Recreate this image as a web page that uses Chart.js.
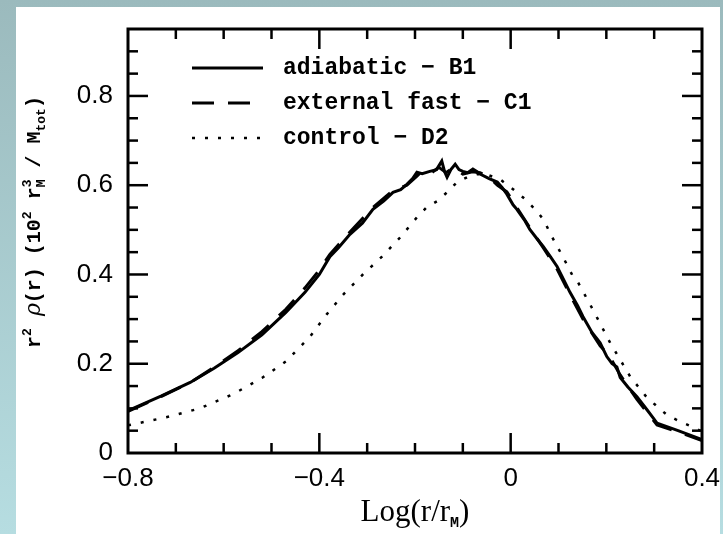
<!DOCTYPE html>
<html>
<head>
<meta charset="utf-8">
<script src="https://cdn.jsdelivr.net/npm/chart.js@4.4.0/dist/chart.umd.min.js"></script>
<style>
html, body { margin: 0; padding: 0; }
body { width: 723px; height: 534px; overflow: hidden; position: relative; background: linear-gradient(#9bbabd, #b6dde1); }
#panel { position: absolute; left: 16px; top: 7px; width: 704px; height: 527px; background: #fff; }
#graph { position: absolute; left: 0; top: 0; }
</style>
</head>
<body>
<div id="panel"></div>
<canvas id="graph" width="723" height="534"></canvas>
<script>
'use strict'

// series
let xAdiabatic = [-0.80, -0.73, -0.67, -0.62, -0.57, -0.52, -0.47, -0.43, -0.40, -0.378, -0.36, -0.336, -0.31, -0.288, -0.265, -0.246, -0.23, -0.217, -0.205, -0.196, -0.185, -0.169, -0.155, -0.144, -0.138, -0.133, -0.125, -0.116, -0.108, -0.10, -0.09, -0.079, -0.07, -0.064, -0.045, -0.028, -0.018, -0.008, 0.005, 0.013, 0.02, 0.03, 0.04, 0.055, 0.068, 0.083, 0.097, 0.11, 0.124, 0.14, 0.151, 0.17, 0.187, 0.201, 0.212, 0.222, 0.229, 0.245, 0.264, 0.285, 0.306, 0.35, 0.40];
let yAdiabatic = [0.095, 0.128, 0.158, 0.19, 0.225, 0.265, 0.315, 0.36, 0.40, 0.44, 0.46, 0.49, 0.515, 0.546, 0.565, 0.584, 0.59, 0.602, 0.615, 0.629, 0.626, 0.631, 0.635, 0.654, 0.63, 0.618, 0.635, 0.647, 0.635, 0.631, 0.628, 0.636, 0.63, 0.625, 0.615, 0.607, 0.595, 0.58, 0.556, 0.546, 0.535, 0.52, 0.501, 0.48, 0.463, 0.44, 0.418, 0.39, 0.36, 0.33, 0.306, 0.27, 0.247, 0.216, 0.20, 0.193, 0.169, 0.148, 0.126, 0.097, 0.067, 0.05, 0.03];

let xFast = [-0.80, -0.73, -0.67, -0.62, -0.57, -0.52, -0.47, -0.43, -0.40, -0.378, -0.336, -0.288, -0.246, -0.217, -0.196, -0.185, -0.165, -0.15, -0.135, -0.12, -0.10, -0.08, -0.064, -0.045, -0.028, -0.008, 0.013, 0.04, 0.068, 0.097, 0.124, 0.151, 0.187, 0.205, 0.229, 0.264, 0.306, 0.35, 0.40];
let yFast = [0.093, 0.127, 0.158, 0.192, 0.229, 0.272, 0.322, 0.37, 0.41, 0.445, 0.495, 0.55, 0.588, 0.60, 0.62, 0.632, 0.628, 0.64, 0.628, 0.64, 0.625, 0.63, 0.628, 0.618, 0.60, 0.585, 0.55, 0.505, 0.46, 0.412, 0.355, 0.30, 0.24, 0.22, 0.175, 0.12, 0.063, 0.047, 0.028];

let xControl = [-0.80, -0.72, -0.65, -0.58, -0.52, -0.47, -0.42, -0.385, -0.35, -0.309, -0.269, -0.231, -0.196, -0.175, -0.154, -0.133, -0.112, -0.091, -0.07, -0.045, -0.022, 0.005, 0.03, 0.051, 0.068, 0.089, 0.109, 0.13, 0.141, 0.172, 0.208, 0.25, 0.285, 0.327, 0.355, 0.381, 0.40];
let yControl = [0.062, 0.08, 0.10, 0.132, 0.168, 0.205, 0.26, 0.31, 0.355, 0.40, 0.44, 0.483, 0.528, 0.551, 0.564, 0.584, 0.607, 0.618, 0.625, 0.622, 0.613, 0.591, 0.569, 0.546, 0.524, 0.479, 0.44, 0.396, 0.382, 0.321, 0.247, 0.171, 0.124, 0.085, 0.07, 0.058, 0.048];

let seriesNames = ['adiabatic \u2212 B1', 'external fast \u2212 C1', 'control \u2212 D2'];
let xRange = [-0.8, 0.4];
let yRange = [0, 0.95];
let xLabelled = [-0.8, -0.4, 0, 0.4];
let yLabelled = [0, 0.2, 0.4, 0.6, 0.8];

function pairs (xs, ys) {
    return xs.map((x, i) => ({x: x, y: ys[i]}));
}

function isLabelled (v, list) {
    return list.some(t => Math.abs(t - v) < 1e-6);
}

function fmt (v) {
    if (Math.abs(v) < 1e-9) return '0';
    return v.toFixed(1).replace('-', '\u2212');
}

function line (ctx, x1, y1, x2, y2) {
    ctx.beginPath();
    ctx.moveTo(x1, y1);
    ctx.lineTo(x2, y2);
    ctx.stroke();
}

// text with super/subscripts, centred on x
function drawRich (ctx, parts, x, y) {
    let w = 0, last = 0;
    parts.forEach(p => {
        ctx.font = p.font;
        let pw = ctx.measureText(p.t).width;
        if (p.back) { w -= last; }
        p.x = w;
        w += pw;
        if (p.back) { w = Math.max(w, p.x + last); }
        last = pw;
    });
    ctx.textAlign = 'left';
    ctx.textBaseline = 'alphabetic';
    parts.forEach(p => {
        ctx.font = p.font;
        ctx.fillText(p.t, x - w / 2 + p.x, y + (p.dy || 0));
    });
}

let mono = 'bold 20px "Liberation Mono"';
let monoSmall = 'bold 13px "Liberation Mono"';

let yTitle = [
    {t: 'r', font: mono},
    {t: '2', font: monoSmall, dy: -9},
    {t: ' ', font: mono},
    {t: '\u03c1', font: 'italic 22px "DejaVu Serif"'},
    {t: '(r) (10', font: mono},
    {t: '2', font: monoSmall, dy: -9},
    {t: ' r', font: mono},
    {t: '3', font: monoSmall, dy: -9},
    {t: 'M', font: monoSmall, dy: 5, back: true},
    {t: ' / M', font: mono},
    {t: 'tot', font: monoSmall, dy: 5},
    {t: ')', font: mono}
];

let xTitle = [
    {t: 'Log(r/r', font: '31px "Liberation Serif"'},
    {t: 'M', font: 'bold 15px "Liberation Mono"', dy: 6},
    {t: ')', font: '31px "Liberation Serif"'}
];

let frame = {
    id: 'frame',
    afterDraw (chart) {
        let ctx = chart.ctx;
        let a = chart.chartArea;
        let xs = chart.scales.x;
        let ys = chart.scales.y;
        ctx.save();
        ctx.strokeStyle = '#000';
        ctx.fillStyle = '#000';
        ctx.lineWidth = 2.5;
        xs.ticks.forEach(t => {
            let px = xs.getPixelForValue(t.value);
            if (px <= a.left + 1 || px >= a.right - 1) return;
            let len = isLabelled(t.value, xLabelled) ? 20 : 10;
            line(ctx, px, a.bottom, px, a.bottom - len);
            line(ctx, px, a.top, px, a.top + len);
        });
        ys.ticks.forEach(t => {
            let py = ys.getPixelForValue(t.value);
            if (py <= a.top + 1 || py >= a.bottom - 1) return;
            let len = isLabelled(t.value, yLabelled) ? 20 : 10;
            line(ctx, a.left, py, a.left + len, py);
            line(ctx, a.right, py, a.right - len, py);
        });
        ctx.lineWidth = 3;
        ctx.strokeRect(a.left, a.top, a.right - a.left, a.bottom - a.top);

        // legend
        chart.data.datasets.forEach((ds, i) => {
            let y = 68 + i * 35;
            ctx.lineWidth = ds.borderWidth;
            ctx.setLineDash(ds.borderDash || []);
            ctx.lineDashOffset = 0;
            line(ctx, 192, y, 263, y);
            ctx.setLineDash([]);
            ctx.font = 'bold 23px "Liberation Mono"';
            ctx.textAlign = 'left';
            ctx.textBaseline = 'middle';
            ctx.fillText(ds.label, 283, y);
        });

        // axis titles
        drawRich(ctx, xTitle, (a.left + a.right) / 2, 521);
        ctx.translate(40, 222);
        ctx.rotate(-Math.PI / 2);
        drawRich(ctx, yTitle, 0, 0);
        ctx.restore();
    }
};

new Chart('graph', {
    type: 'scatter',
    data: {
        datasets: [{
            label: seriesNames[0],
            data: pairs(xAdiabatic, yAdiabatic),
            showLine: true,
            borderColor: '#000',
            borderWidth: 3,
            pointRadius: 0
        }, {
            label: seriesNames[1],
            data: pairs(xFast, yFast),
            showLine: true,
            borderColor: '#000',
            borderWidth: 3,
            borderDash: [22, 14],
            pointRadius: 0
        }, {
            label: seriesNames[2],
            data: pairs(xControl, yControl),
            showLine: true,
            borderColor: '#000',
            borderWidth: 2.5,
            borderDash: [3, 10],
            pointRadius: 0
        }]
    },
    options: {
        responsive: false,
        animation: false,
        layout: { padding: { top: 29, right: 21, left: 0, bottom: 0 } },
        plugins: {
            legend: { display: false },
            tooltip: { enabled: false }
        },
        scales: {
            x: {
                type: 'linear',
                min: xRange[0],
                max: xRange[1],
                grid: { display: false, drawTicks: false },
                border: { display: false },
                ticks: {
                    stepSize: 0.1,
                    autoSkip: false,
                    maxRotation: 0,
                    padding: 10,
                    color: '#000',
                    font: { family: 'Liberation Sans', size: 26 },
                    callback: v => isLabelled(v, xLabelled) ? fmt(v) : ''
                },
                afterFit (scale) {
                    scale.height = 81;
                    scale.paddingLeft = 0;
                    scale.paddingRight = 0;
                }
            },
            y: {
                min: yRange[0],
                max: yRange[1],
                grid: { display: false, drawTicks: false },
                border: { display: false },
                ticks: {
                    stepSize: 0.05,
                    autoSkip: false,
                    padding: 15,
                    color: '#000',
                    font: { family: 'Liberation Sans', size: 26 },
                    callback: v => isLabelled(v, yLabelled) ? fmt(v) : ''
                },
                afterFit (scale) {
                    scale.width = 128;
                    scale.paddingTop = 0;
                    scale.paddingBottom = 0;
                }
            }
        }
    },
    plugins: [frame]
});
</script>
</body>
</html>
